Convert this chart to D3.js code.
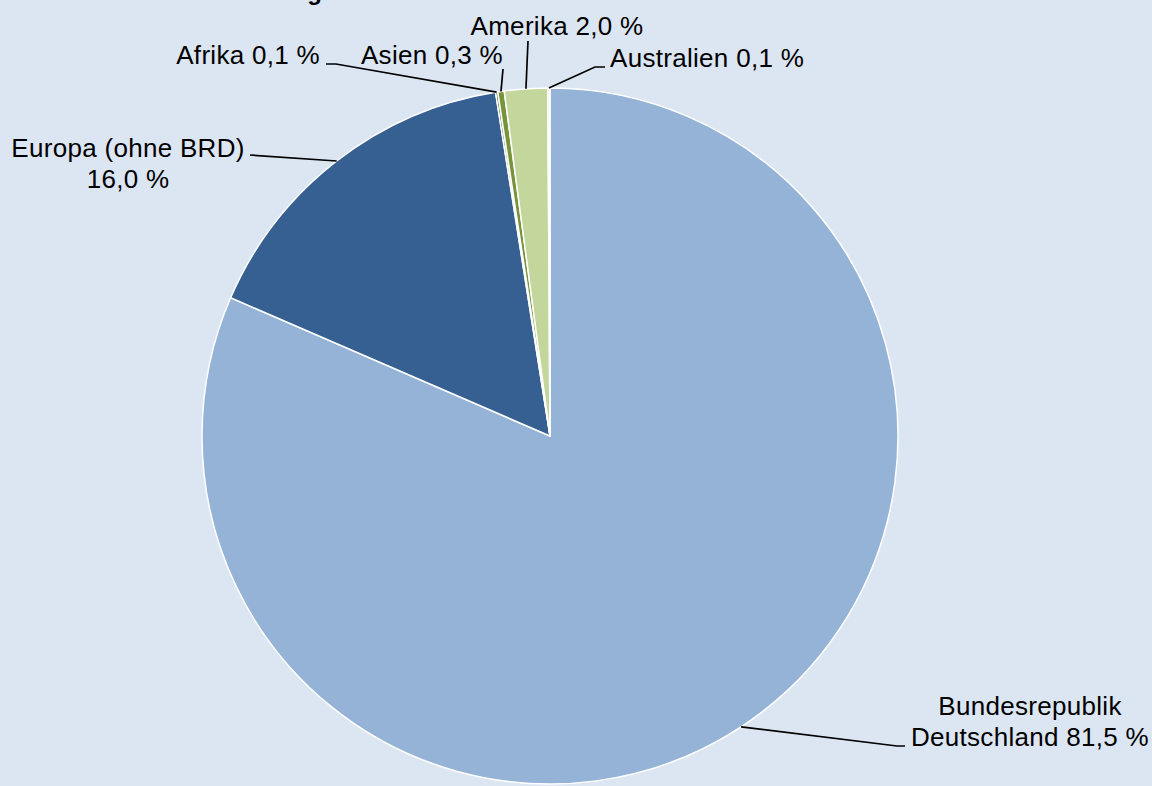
<!DOCTYPE html>
<html>
<head>
<meta charset="utf-8">
<script src="https://cdn.jsdelivr.net/npm/d3@7"></script>
<style>
  html, body { margin: 0; padding: 0; background: #dce6f2; }
  svg { display: block; font-family: Arial, "Liberation Sans", sans-serif; }
</style>
</head>
<body>
<div id="chart"></div>
<script>
// data
var regions = ['Bundesrepublik Deutschland', 'Europa (ohne BRD)', 'Afrika', 'Asien', 'Amerika', 'Australien'];
var shares = [81.5, 16.0, 0.1, 0.3, 2.0, 0.1];
var shareLabels = ['81,5 %', '16,0 %', '0,1 %', '0,3 %', '2,0 %', '0,1 %'];
var colors = ['#95b3d7', '#366092', '#4f6228', '#77933c', '#c3d69b', '#ebf1de'];

// label text lines (per slice)
var labelLines = [
  ['Bundesrepublik', 'Deutschland 81,5 %'],
  ['Europa (ohne BRD)', '16,0 %'],
  ['Afrika 0,1 %'],
  ['Asien 0,3 %'],
  ['Amerika 2,0 %'],
  ['Australien 0,1 %']
];
// x, first baseline, anchor
var labelPos = [
  [1030, 715, 'middle'],
  [128, 157, 'middle'],
  [320, 64, 'end'],
  [503, 64, 'end'],
  [557, 35, 'middle'],
  [610, 67, 'start']
];
// leader bend points (label side), from label outward
var leaderBends = [
  [[905, 746], [897, 746]],
  [[250, 155]],
  [[326, 64], [336, 64]],
  [[503, 69]],
  [[528, 41]],
  [[605, 67], [595, 67]]
];

var width = 1152, height = 786;
var cx = 550, cy = 436, radius = 348;

var svg = d3.select('#chart').append('svg')
  .attr('width', width)
  .attr('height', height);

svg.append('rect')
  .attr('width', width)
  .attr('height', height)
  .attr('fill', '#dce6f2');

// title sits mostly above the page, only a descender shows
svg.append('text')
  .attr('x', 322)
  .attr('y', 0)
  .attr('text-anchor', 'end')
  .attr('font-weight', 'bold')
  .attr('font-size', 24)
  .text('Herkunftsverteilung');

var pie = d3.pie().sort(null).value(function(d) { return d; });
var arcs = pie(shares);

var arc = d3.arc().innerRadius(0).outerRadius(radius);
var edge = d3.arc().innerRadius(radius).outerRadius(radius);

var g = svg.append('g').attr('transform', 'translate(' + cx + ',' + cy + ')');

g.selectAll('path.slice')
  .data(arcs)
  .enter()
  .append('path')
  .attr('class', 'slice')
  .attr('d', arc)
  .attr('fill', function(d, i) { return colors[i]; })
  .attr('stroke', '#ffffff')
  .attr('stroke-width', 1.5)
  .attr('stroke-linejoin', 'round');

// leader lines
var line = d3.line();
arcs.forEach(function(d, i) {
  var c = edge.centroid(d);
  var pts = leaderBends[i].slice();
  pts.push([c[0] + cx, c[1] + cy]);
  svg.append('path')
    .attr('d', line(pts))
    .attr('fill', 'none')
    .attr('stroke', '#000')
    .attr('stroke-width', 1.7);
});

// labels
labelLines.forEach(function(lines, i) {
  var t = svg.append('text')
    .attr('x', labelPos[i][0])
    .attr('y', labelPos[i][1])
    .attr('text-anchor', labelPos[i][2])
    .attr('font-size', 26)
    .attr('letter-spacing', 0.3)
    .attr('fill', '#000');
  lines.forEach(function(s, j) {
    t.append('tspan')
      .attr('x', labelPos[i][0])
      .attr('dy', j === 0 ? 0 : 31)
      .text(s);
  });
});
</script>
</body>
</html>
